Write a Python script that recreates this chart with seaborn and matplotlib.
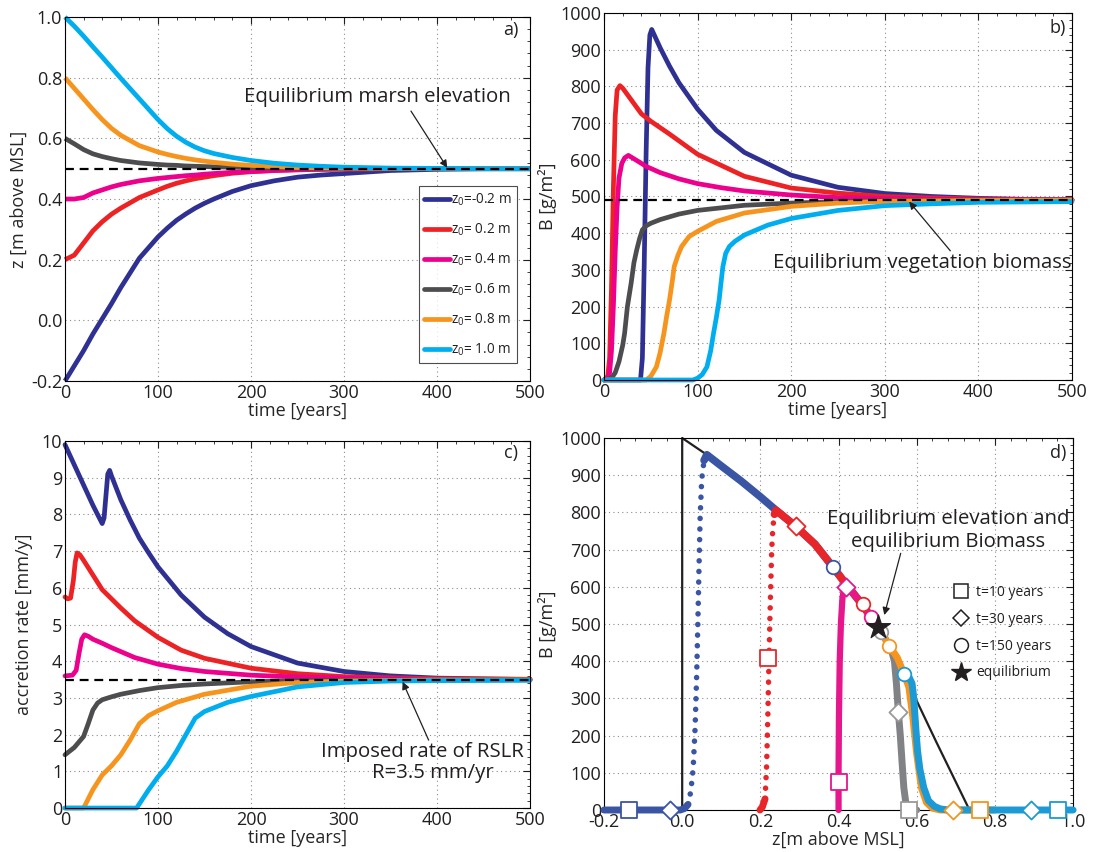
import numpy as np
import matplotlib
matplotlib.use('Agg')
import matplotlib.pyplot as plt
import seaborn as sns
from matplotlib.lines import Line2D
from matplotlib.ticker import AutoMinorLocator, MultipleLocator, FormatStrFormatter

# ------------------------------------------------------------------ data
LABELS = ['z$_0$=-0.2 m', 'z$_0$= 0.2 m', 'z$_0$= 0.4 m',
          'z$_0$= 0.6 m', 'z$_0$= 0.8 m', 'z$_0$= 1.0 m']
COLORS = ['#2e3192', '#ed2224', '#ec008c', '#4d4d4f', '#f7941d', '#00aeef']
COLORS_D = ['#3a55a4', '#e8262a', '#e6168c', '#808285', '#f7941d', '#1b9ad6']

EQ_Z = 0.5      # equilibrium marsh elevation
EQ_B = 490      # equilibrium biomass
RSLR = 3.5      # imposed rate of RSLR

# panel a : elevation vs time
T_A = [0, 10, 20, 30, 40, 50, 60, 80, 100, 110, 120, 130, 140, 150, 160, 180, 200, 225, 250, 275, 300, 350, 400, 450, 500]
Z_M02 = [-0.2, -0.15, -0.10, -0.045, 0.005, 0.055, 0.108, 0.205, 0.275, 0.304, 0.33, 0.351, 0.37, 0.386, 0.40,
         0.425, 0.444, 0.46, 0.472, 0.479, 0.484, 0.494, 0.498, 0.5, 0.5]
Z_P02 = [0.2, 0.215, 0.255, 0.295, 0.325, 0.35, 0.37, 0.405, 0.43, 0.442, 0.452, 0.46, 0.467, 0.472, 0.477,
         0.485, 0.49, 0.494, 0.497, 0.498, 0.499, 0.5, 0.5, 0.5, 0.5]
Z_P04 = [0.4, 0.4, 0.405, 0.42, 0.43, 0.44, 0.448, 0.46, 0.468, 0.471, 0.474, 0.477, 0.479, 0.482, 0.484,
         0.488, 0.491, 0.494, 0.496, 0.498, 0.499, 0.5, 0.5, 0.5, 0.5]
Z_P06 = [0.6, 0.582, 0.563, 0.549, 0.54, 0.533, 0.527, 0.519, 0.514, 0.512, 0.511, 0.509, 0.508, 0.507, 0.506,
         0.505, 0.504, 0.503, 0.502, 0.501, 0.501, 0.5, 0.5, 0.5, 0.5]
Z_P08 = [0.8, 0.765, 0.73, 0.695, 0.662, 0.633, 0.61, 0.576, 0.555, 0.547, 0.54, 0.534, 0.529, 0.525, 0.521,
         0.515, 0.511, 0.507, 0.504, 0.503, 0.502, 0.501, 0.5, 0.5, 0.5]
Z_P10 = [1.0, 0.97, 0.937, 0.902, 0.868, 0.833, 0.798, 0.73, 0.662, 0.632, 0.607, 0.587, 0.571, 0.559, 0.55,
         0.537, 0.527, 0.518, 0.512, 0.508, 0.505, 0.502, 0.501, 0.5, 0.5]

# panel b : biomass vs time
TB_M02 = [0, 39, 41, 43, 45, 47, 49, 51, 60, 70, 80, 100, 120, 150, 200, 250, 300, 350, 400, 450, 500]
B_M02 = [0, 0, 60, 320, 620, 850, 940, 955, 905, 855, 810, 738, 680, 620, 558, 525, 508, 500, 495, 492, 491]
TB_P02 = [0, 4, 6, 8, 10, 12, 14, 17, 20, 30, 40, 50, 70, 100, 125, 150, 200, 250, 300, 350, 400, 500]
B_P02 = [0, 10, 60, 250, 520, 720, 790, 802, 795, 760, 725, 705, 670, 615, 585, 555, 523, 509, 500, 496, 493, 491]
TB_P04 = [0, 4, 6, 8, 10, 12, 14, 16, 19, 22, 26, 35, 45, 60, 80, 100, 125, 150, 200, 250, 300, 400, 500]
B_P04 = [0, 5, 20, 80, 200, 350, 470, 550, 590, 605, 612, 598, 582, 565, 548, 535, 524, 515, 504, 497, 494, 491, 491]
TB_P06 = [0, 8, 12, 16, 20, 22, 25, 29, 32, 35, 38, 41, 45, 50, 60, 80, 100, 150, 200, 250, 300, 400, 500]
B_P06 = [0, 5, 20, 50, 95, 127, 200, 264, 320, 355, 385, 409, 420, 427, 437, 452, 462, 476, 482, 486, 488, 490, 490]
TB_P08 = [0, 45, 50, 56, 60, 64, 67, 70, 73, 75, 79, 83, 91, 100, 120, 150, 200, 250, 300, 400, 500]
B_P08 = [0, 0, 10, 36, 75, 127, 175, 218, 270, 309, 340, 364, 391, 405, 432, 455, 473, 482, 487, 489, 490]
TB_P10 = [0, 95, 100, 105, 110, 114, 117, 120, 123, 125, 127, 130, 134, 140, 150, 175, 200, 250, 300, 350, 400, 500]
B_P10 = [0, 0, 5, 15, 36, 80, 127, 170, 218, 265, 309, 345, 364, 378, 395, 422, 440, 462, 475, 480, 484, 486]

# panel c : accretion rate vs time
TC_M02 = [0, 10, 20, 30, 40, 42, 44, 46, 48, 50, 60, 70, 80, 90, 100, 125, 150, 175, 200, 250, 300, 350, 400, 450, 500]
A_M02 = [9.9, 9.35, 8.8, 8.25, 7.75, 7.9, 8.5, 9.1, 9.2, 9.05, 8.4, 7.85, 7.35, 6.95, 6.57, 5.8, 5.2, 4.75,
         4.4, 3.95, 3.72, 3.6, 3.54, 3.52, 3.5]
TC_P02 = [0, 3, 6, 9, 11, 13, 16, 20, 30, 40, 50, 60, 75, 100, 125, 150, 200, 250, 300, 400, 500]
A_P02 = [5.75, 5.7, 5.72, 6.2, 6.7, 6.95, 6.9, 6.75, 6.35, 5.95, 5.7, 5.45, 5.1, 4.65, 4.3, 4.08, 3.81,
         3.66, 3.58, 3.52, 3.51]
TC_P04 = [0, 8, 12, 15, 18, 21, 25, 30, 40, 50, 75, 100, 125, 150, 200, 250, 300, 400, 500]
A_P04 = [3.6, 3.62, 3.75, 4.2, 4.6, 4.72, 4.68, 4.6, 4.49, 4.37, 4.1, 3.92, 3.8, 3.72, 3.62, 3.57, 3.54, 3.51, 3.5]
TC_P06 = [0, 10, 20, 25, 30, 35, 40, 50, 60, 80, 100, 125, 150, 200, 250, 300, 400, 500]
A_P06 = [1.45, 1.65, 1.95, 2.3, 2.67, 2.86, 2.95, 3.03, 3.1, 3.2, 3.28, 3.34, 3.38, 3.44, 3.47, 3.48, 3.49, 3.5]
TC_P08 = [0, 20, 30, 40, 50, 60, 70, 80, 90, 100, 120, 150, 200, 250, 300, 400, 500]
A_P08 = [0, 0, 0.5, 0.9, 1.15, 1.45, 1.85, 2.3, 2.52, 2.65, 2.88, 3.1, 3.32, 3.42, 3.46, 3.49, 3.49]
TC_P10 = [0, 77, 90, 100, 110, 120, 130, 140, 150, 175, 200, 250, 300, 350, 400, 500]
A_P10 = [0, 0, 0.5, 0.85, 1.15, 1.55, 2.0, 2.45, 2.63, 2.88, 3.04, 3.3, 3.42, 3.46, 3.47, 3.48]

# panel d : phase plane B(z)
EQC_Z = [0.0, 0.0, 0.063, 0.10, 0.15, 0.20, 0.24, 0.29, 0.34, 0.385, 0.42, 0.46, 0.50, 0.53, 0.568, 0.65, 0.735]
EQC_B = [0, 1000, 955, 925, 885, 842, 806, 763, 714, 654, 606, 553, 493, 441, 364, 183, 0]

# solid (slow) and dotted (fast) parts of each trajectory
DZ_M02_A = [-0.2, -0.005, 0.006, 0.015]
DB_M02_A = [0, 0, 4, 15]
DZ_M02_DOT = [0.015, 0.022, 0.028, 0.033, 0.037, 0.040, 0.043, 0.046, 0.050, 0.056]
DB_M02_DOT = [15, 50, 110, 220, 360, 500, 650, 790, 890, 940]
DZ_M02_B = [0.056, 0.063, 0.10, 0.15, 0.20, 0.24, 0.29, 0.34, 0.385, 0.42, 0.46, 0.50]
DB_M02_B = [940, 955, 925, 885, 842, 806, 763, 714, 654, 606, 553, 493]

DZ_P02_A = [0.199, 0.205, 0.212]
DB_P02_A = [0, 8, 30]
DZ_P02_DOT = [0.212, 0.216, 0.219, 0.222, 0.2245, 0.227, 0.229, 0.232, 0.236]
DB_P02_DOT = [30, 120, 250, 400, 520, 620, 700, 760, 795]
DZ_P02_B = [0.236, 0.24, 0.29, 0.34, 0.385, 0.42, 0.46, 0.50]
DB_P02_B = [795, 806, 763, 714, 654, 606, 553, 493]

DZ_P04 = [0.400, 0.400, 0.401, 0.403, 0.406, 0.41, 0.415, 0.42, 0.46, 0.50]
DB_P04 = [0, 100, 250, 400, 500, 570, 603, 606, 553, 493]

DZ_P06 = [0.60, 0.58, 0.572, 0.567, 0.563, 0.558, 0.553, 0.548, 0.543, 0.535, 0.52, 0.508, 0.50]
DB_P06 = [0, 2, 20, 60, 120, 200, 264, 340, 400, 430, 460, 479, 493]

DZ_P08 = [0.80, 0.70, 0.66, 0.64, 0.625, 0.612, 0.60, 0.59, 0.58, 0.568, 0.55, 0.53, 0.50]
DB_P08 = [0, 0, 0, 5, 20, 60, 150, 250, 330, 365, 410, 441, 493]

DZ_P10 = [1.0, 0.68, 0.66, 0.645, 0.63, 0.618, 0.608, 0.602, 0.598, 0.595, 0.592, 0.588, 0.58, 0.568]
DB_P10 = [0, 0, 3, 10, 25, 60, 110, 160, 215, 260, 305, 340, 358, 365]

# markers at t = 10, 30, 150 years (one per trajectory, same order as COLORS)
SQ_Z = [-0.136, 0.22, 0.401, 0.581, 0.761, 0.962]
SQ_B = [0, 408, 76, 0, 0, 0]
DM_Z = [-0.03, 0.291, 0.418, 0.553, 0.693, 0.893]
DM_B = [0, 763, 600, 264, 0, 0]
CI_Z = [0.385, 0.462, 0.482, 0.508, 0.53, 0.568]
CI_B = [654, 553, 518, 479, 441, 365]
STAR_Z = [0.5]
STAR_B = [493]

# ------------------------------------------------------------------ style
sns.set_style('white')
plt.rcParams['font.family'] = ['Open Sans', 'DejaVu Sans']
plt.rcParams['mathtext.default'] = 'regular'
plt.rcParams['axes.edgecolor'] = 'black'
plt.rcParams['axes.linewidth'] = 0.8
plt.rcParams['text.color'] = '#231f20'
plt.rcParams['xtick.color'] = '#231f20'
plt.rcParams['ytick.color'] = '#231f20'

FS = 13      # ticks / axis labels
FSA = 14.7   # annotations
LW = 3.4
LWD = 5.0

fig = plt.figure(figsize=(10.96, 8.52), dpi=100)
ax_a = fig.add_axes([0.0593, 0.5528, 0.4243, 0.4272])
ax_b = fig.add_axes([0.5511, 0.554, 0.4270, 0.4308])
ax_c = fig.add_axes([0.0593, 0.0516, 0.4243, 0.4308])
ax_d = fig.add_axes([0.5511, 0.0493, 0.4280, 0.4366])


def style_axes(ax):
    ax.grid(True, which='major', linestyle=(0, (1, 3)), color='#8c8c8c', linewidth=0.8)
    ax.set_axisbelow(True)
    ax.xaxis.set_minor_locator(AutoMinorLocator(5))
    ax.yaxis.set_minor_locator(AutoMinorLocator(5))
    ax.tick_params(which='both', direction='in', top=True, right=True, labelsize=FS, pad=2)
    ax.tick_params(which='major', length=5, width=0.8)
    ax.tick_params(which='minor', length=2.5, width=0.6)
    for s in ax.spines.values():
        s.set_visible(True)
        s.set_color('black')
        s.set_linewidth(0.8)


def line(ax, x, y, color, lw, **kw):
    sns.lineplot(x=x, y=y, ax=ax, color=color, linewidth=lw, sort=False, estimator=None,
                 legend=False, clip_on=False, **kw)


arrow = dict(arrowstyle='-|>', color='#231f20', lw=0.9, mutation_scale=11, shrinkA=0, shrinkB=0)

# ---------------- panel a
series_a = [Z_M02, Z_P02, Z_P04, Z_P06, Z_P08, Z_P10]
for z, c in zip(series_a, COLORS):
    line(ax_a, T_A, z, c, LW, solid_capstyle='butt', solid_joinstyle='round')
line(ax_a, [0, 500], [EQ_Z, EQ_Z], 'black', 1.6, linestyle=(0, (4, 2.6)), zorder=5)
ax_a.set_xlim(0, 500)
ax_a.set_ylim(-0.2, 1.0)
ax_a.yaxis.set_major_locator(MultipleLocator(0.2))
ax_a.yaxis.set_major_formatter(FormatStrFormatter('%.1f'))
ax_a.xaxis.set_major_locator(MultipleLocator(100))
style_axes(ax_a)
ax_a.set_xlabel('time [years]', fontsize=FS, labelpad=0)
ax_a.set_ylabel('z [m above MSL]', fontsize=FS, labelpad=2)
handles = [Line2D([], [], color=c, lw=LW) for c in COLORS]
leg = ax_a.legend(handles, LABELS, loc='lower right', bbox_to_anchor=(0.973, 0.049),
                  fontsize=9.8, frameon=True, fancybox=False, edgecolor='#231f20',
                  handlelength=1.9, handletextpad=0.1, labelspacing=1.0, borderpad=0.4,
                  borderaxespad=0)
leg.get_frame().set_linewidth(0.8)
ax_a.text(336, 0.736, 'Equilibrium marsh elevation', ha='center', va='center', fontsize=FSA)
ax_a.annotate('', xy=(411, 0.503), xytext=(372, 0.69), arrowprops=arrow)
ax_a.text(0.959, 0.965, 'a)', transform=ax_a.transAxes, ha='center', va='center', fontsize=FS)

# ---------------- panel b
series_b = [(TB_M02, B_M02), (TB_P02, B_P02), (TB_P04, B_P04),
            (TB_P06, B_P06), (TB_P08, B_P08), (TB_P10, B_P10)]
for (t, b), c in zip(series_b, COLORS):
    line(ax_b, t, b, c, LW, solid_joinstyle='round')
line(ax_b, [0, 500], [EQ_B, EQ_B], 'black', 1.6, linestyle=(0, (4, 2.6)), zorder=5)
ax_b.set_xlim(0, 500)
ax_b.set_ylim(0, 1000)
ax_b.yaxis.set_major_locator(MultipleLocator(100))
ax_b.xaxis.set_major_locator(MultipleLocator(100))
style_axes(ax_b)
ax_b.set_xlabel('time [years]', fontsize=FS, labelpad=0)
ax_b.set_ylabel('B [g/m²]', fontsize=FS, labelpad=2)
ax_b.annotate('', xy=(326, 486), xytext=(370, 352), arrowprops=arrow)
ax_b.text(500, 318, 'Equilibrium vegetation biomass', ha='right', va='center', fontsize=FSA)
ax_b.text(0.969, 0.958, 'b)', transform=ax_b.transAxes, ha='center', va='center', fontsize=FS)

# ---------------- panel c
series_c = [(TC_M02, A_M02), (TC_P02, A_P02), (TC_P04, A_P04),
            (TC_P06, A_P06), (TC_P08, A_P08), (TC_P10, A_P10)]
for (t, a), c in zip(series_c, COLORS):
    line(ax_c, t, a, c, LW, solid_joinstyle='round')
line(ax_c, [0, 500], [RSLR, RSLR], 'black', 1.6, linestyle=(0, (4, 2.6)), zorder=5)
ax_c.set_xlim(0, 500)
ax_c.set_ylim(0, 10)
ax_c.yaxis.set_major_locator(MultipleLocator(1))
ax_c.xaxis.set_major_locator(MultipleLocator(100))
style_axes(ax_c)
ax_c.set_xlabel('time [years]', fontsize=FS, labelpad=0)
ax_c.set_ylabel('accretion rate [mm/y]', fontsize=FS, labelpad=6)
ax_c.annotate('', xy=(363, 3.44), xytext=(391, 1.85), arrowprops=arrow)
ax_c.text(384, 1.25, 'Imposed rate of RSLR\n    R=3.5 mm/yr', ha='center', va='center',
          fontsize=FSA, linespacing=1.05)
ax_c.text(0.959, 0.966, 'c)', transform=ax_c.transAxes, ha='center', va='center', fontsize=FS)

# ---------------- panel d
line(ax_d, EQC_Z, EQC_B, '#231f20', 1.6, zorder=2)
dot = dict(linestyle=(0, (0.01, 1.9)), dash_capstyle='round')
rnd = dict(solid_capstyle='round', solid_joinstyle='round')
line(ax_d, DZ_M02_A, DB_M02_A, COLORS_D[0], LWD, zorder=3, **rnd)
line(ax_d, DZ_M02_DOT, DB_M02_DOT, COLORS_D[0], 4.0, zorder=3, **dot)
line(ax_d, DZ_M02_B, DB_M02_B, COLORS_D[0], 5.5, zorder=3, **rnd)
line(ax_d, DZ_P02_A, DB_P02_A, COLORS_D[1], LWD, zorder=3, **rnd)
line(ax_d, DZ_P02_DOT, DB_P02_DOT, COLORS_D[1], 4.0, zorder=3, **dot)
line(ax_d, DZ_P02_B, DB_P02_B, COLORS_D[1], 5.5, zorder=3, **rnd)
line(ax_d, DZ_P04, DB_P04, COLORS_D[2], 4.5, zorder=3, **rnd)
line(ax_d, DZ_P06, DB_P06, COLORS_D[3], LWD, zorder=3, **rnd)
line(ax_d, DZ_P08, DB_P08, COLORS_D[4], LWD, zorder=3, **rnd)
line(ax_d, DZ_P10, DB_P10, COLORS_D[5], LWD, zorder=3, **rnd)

mk_edges = ['#3a55a4', '#e8262a', '#e6168c', '#999999', '#f7941d', '#1b9ad6']
for i, c in enumerate(mk_edges):
    sns.scatterplot(x=[SQ_Z[i]], y=[SQ_B[i]], ax=ax_d, marker='s', s=130, color='white',
                    edgecolor=c, linewidth=1.3, zorder=6, clip_on=False, legend=False)
    sns.scatterplot(x=[DM_Z[i]], y=[DM_B[i]], ax=ax_d, marker='D', s=85, color='white',
                    edgecolor=c, linewidth=1.3, zorder=6, clip_on=False, legend=False)
    sns.scatterplot(x=[CI_Z[i]], y=[CI_B[i]], ax=ax_d, marker='o', s=95, color='white',
                    edgecolor=c, linewidth=1.3, zorder=6, clip_on=False, legend=False)
sns.scatterplot(x=STAR_Z, y=STAR_B, ax=ax_d, marker='*', s=330, color='#231f20',
                edgecolor='#231f20', linewidth=0.8, zorder=7, clip_on=False, legend=False)

ax_d.set_xlim(-0.2, 1.0)
ax_d.set_ylim(0, 1000)
ax_d.yaxis.set_major_locator(MultipleLocator(100))
ax_d.xaxis.set_major_locator(MultipleLocator(0.2))
ax_d.xaxis.set_major_formatter(FormatStrFormatter('%.1f'))
style_axes(ax_d)
ax_d.set_xlabel('z[m above MSL]', fontsize=FS, labelpad=0)
ax_d.set_ylabel('B [g/m²]', fontsize=FS, labelpad=2)
ax_d.annotate('', xy=(0.517, 524), xytext=(0.559, 690), arrowprops=arrow)
ax_d.text(0.68, 751, 'Equilibrium elevation and\nequilibrium Biomass', ha='center', va='center',
          fontsize=FSA, linespacing=1.2)
ax_d.text(0.968, 0.96, 'd)', transform=ax_d.transAxes, ha='center', va='center', fontsize=FS)

mk_handles = [
    Line2D([], [], linestyle='none', marker='s', markersize=10, markerfacecolor='white',
           markeredgecolor='#231f20', markeredgewidth=1.1),
    Line2D([], [], linestyle='none', marker='D', markersize=8.5, markerfacecolor='white',
           markeredgecolor='#231f20', markeredgewidth=1.1),
    Line2D([], [], linestyle='none', marker='o', markersize=10, markerfacecolor='white',
           markeredgecolor='#231f20', markeredgewidth=1.1),
    Line2D([], [], linestyle='none', marker='*', markersize=15, markerfacecolor='#231f20',
           markeredgecolor='#231f20'),
]
ax_d.legend(mk_handles, ['t=10 years', 't=30 years', 't=150 years', 'equilibrium'],
            loc='upper left', bbox_to_anchor=(0.745, 0.605), frameon=False, fontsize=10,
            handlelength=1.1, handletextpad=0.55, labelspacing=0.85, borderpad=0, borderaxespad=0)

fig.savefig('out.png', dpi=100, facecolor='white')
